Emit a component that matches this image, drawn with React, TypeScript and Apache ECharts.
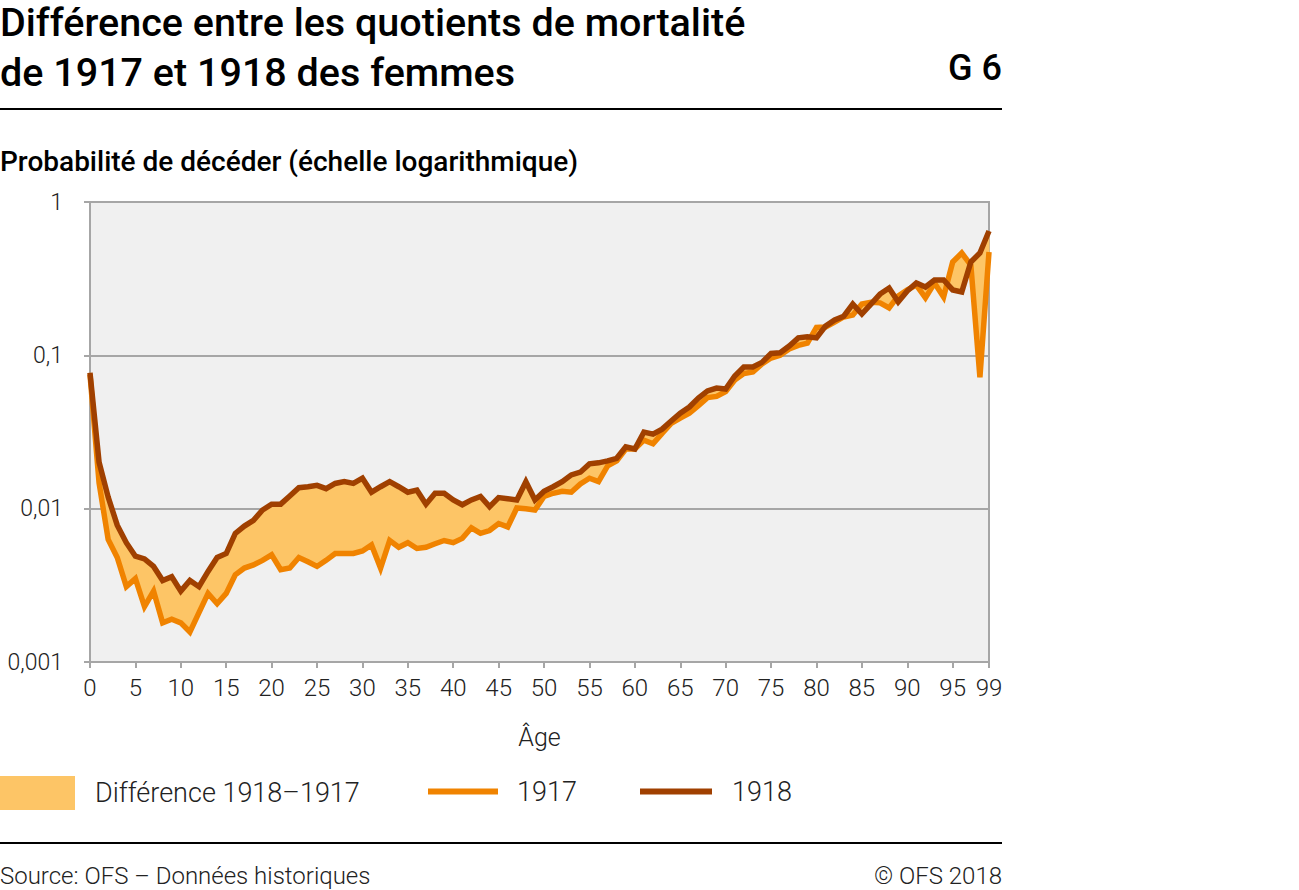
import React, { useEffect, useRef } from "react";
import * as echarts from "echarts";

const ages: number[] = Array.from({ length: 100 }, (_, i) => i);

const q1917: number[] = [
  0.075, 0.0147, 0.0063, 0.0048, 0.0031, 0.0035, 0.0023, 0.0029, 0.0018, 0.0019,
  0.0018, 0.00157, 0.0021, 0.0028, 0.0024, 0.0028, 0.0037, 0.0041, 0.0043, 0.0046,
  0.005, 0.004, 0.0041, 0.0048, 0.0045, 0.0042, 0.0046, 0.0051, 0.0051, 0.0051,
  0.0053, 0.0058, 0.0041, 0.0062, 0.0056, 0.006, 0.0055, 0.0056, 0.0059, 0.0062,
  0.006, 0.0064, 0.0075, 0.0069, 0.0072, 0.008, 0.0076, 0.0101, 0.01, 0.0098,
  0.012, 0.0126, 0.013, 0.0128, 0.0145, 0.0158, 0.015, 0.019, 0.0205, 0.0245,
  0.0245, 0.028, 0.0265, 0.031, 0.036, 0.039, 0.042, 0.047, 0.053, 0.054,
  0.058, 0.069, 0.076, 0.078, 0.088, 0.096, 0.1, 0.11, 0.116, 0.12,
  0.152, 0.153, 0.165, 0.178, 0.183, 0.216, 0.222, 0.22, 0.204, 0.244,
  0.267, 0.287, 0.237, 0.296, 0.24, 0.406, 0.465, 0.388, 0.072, 0.472,
];

const q1918: number[] = [
  0.077, 0.0201, 0.0119, 0.0078, 0.006, 0.0049, 0.0047, 0.0042, 0.0034, 0.0036,
  0.0029, 0.0034, 0.0031, 0.0039, 0.0048, 0.0051, 0.0069, 0.0077, 0.0084, 0.0098,
  0.0107, 0.0107, 0.0121, 0.0137, 0.0139, 0.0142, 0.0135, 0.0146, 0.015, 0.0146,
  0.0158, 0.0128, 0.0139, 0.015, 0.0139, 0.0128, 0.0132, 0.0107, 0.0126, 0.0126,
  0.0114, 0.0106, 0.0114, 0.012, 0.0103, 0.0118, 0.0116, 0.0114, 0.015, 0.0114,
  0.013, 0.0139, 0.015, 0.0166, 0.0173, 0.0196, 0.0199, 0.0205, 0.0213, 0.0253,
  0.0245, 0.0316, 0.0306, 0.033, 0.0373, 0.042, 0.046, 0.0527, 0.0586, 0.0612,
  0.0603, 0.0733, 0.0839, 0.0839, 0.09, 0.1028, 0.104, 0.115, 0.13, 0.132,
  0.13, 0.155, 0.17, 0.18, 0.216, 0.186, 0.216, 0.251, 0.275, 0.223,
  0.263, 0.296, 0.279, 0.31, 0.31, 0.267, 0.259, 0.406, 0.465, 0.647,
];

const xTicks: number[] = [0, 5, 10, 15, 20, 25, 30, 35, 40, 45, 50, 55, 60, 65, 70, 75, 80, 85, 90, 95, 99];
const yTickLabels: Record<string, string> = { "1": "1", "0.1": "0,1", "0.01": "0,01", "0.001": "0,001" };

const titleLines = ["Différence entre les quotients de mortalité", "de 1917 et 1918 des femmes"];
const chartNumber = "G 6";
const subtitle = "Probabilité de décéder (échelle logarithmique)";
const xAxisName = "Âge";
const seriesNames = ["Différence 1918–1917", "1917", "1918"];
const sourceText = "Source: OFS – Données historiques";
const copyrightText = "© OFS 2018";

const COLOR_FILL = "#fdc566";
const COLOR_1917 = "#f08300";
const COLOR_1918 = "#a04000";
const FONT = "Roboto, 'Noto Sans', sans-serif";

export default function App() {
  const ref = useRef<HTMLDivElement>(null);

  useEffect(() => {
    document.body.style.margin = "0";
    if (!ref.current) return;
    const chart = echarts.init(ref.current, null, { renderer: "svg" });

    const data1917 = ages.map((a, i) => [a, q1917[i]]);
    const data1918 = ages.map((a, i) => [a, q1918[i]]);
    const fillData = ages.map((a, i) => [a, q1917[i], q1918[i]]);

    const legendText = { fontSize: 27, fontWeight: 300, color: "#222", fontFamily: FONT };

    const option: any = {
      animation: false,
      textStyle: { fontFamily: FONT },
      grid: {
        left: 90,
        top: 202,
        width: 899,
        height: 460,
        show: true,
        backgroundColor: "#f0f0f0",
        borderColor: "#a6a6a6",
        borderWidth: 2,
      },
      xAxis: {
        type: "value",
        min: 0,
        max: 99,
        interval: 5,
        name: xAxisName,
        nameLocation: "middle",
        nameGap: 63,
        nameTextStyle: { fontSize: 25, fontWeight: 300, color: "#222", fontFamily: FONT },
        axisLine: { show: true, lineStyle: { color: "#a6a6a6", width: 2 } },
        axisTick: { show: true, length: 6, lineStyle: { color: "#a6a6a6", width: 2 }, customValues: xTicks },
        axisLabel: {
          customValues: xTicks,
          fontSize: 24,
          fontWeight: 300,
          color: "#222",
          margin: 14,
          fontFamily: FONT,
        },
        splitLine: { show: false },
      },
      yAxis: {
        type: "log",
        logBase: 10,
        min: 0.001,
        max: 1,
        axisLine: { show: true, lineStyle: { color: "#a6a6a6", width: 2 } },
        axisTick: { show: true, length: 6, lineStyle: { color: "#a6a6a6", width: 2 } },
        axisLabel: {
          fontSize: 23,
          fontWeight: 300,
          color: "#222",
          margin: 27,
          fontFamily: FONT,
          formatter: (v: number) => {
            const key = String(Number(v.toPrecision(3)));
            return yTickLabels[key] ?? String(v).replace(".", ",");
          },
        },
        splitLine: { show: true, lineStyle: { color: "#a6a6a6", width: 2 } },
        minorTick: { show: false },
      },
      legend: [
        {
          data: [seriesNames[0]],
          left: 0,
          top: 776,
          padding: 0,
          itemWidth: 75,
          itemHeight: 34,
          icon: "rect",
          textStyle: { ...legendText, padding: [0, 0, 0, 15] },
        },
        {
          data: [seriesNames[1]],
          left: 428,
          top: 778,
          padding: 0,
          itemWidth: 70,
          itemHeight: 6,
          icon: "rect",
          textStyle: { ...legendText, padding: [0, 0, 0, 14] },
        },
        {
          data: [seriesNames[2]],
          left: 640,
          top: 778,
          padding: 0,
          itemWidth: 72,
          itemHeight: 6,
          icon: "rect",
          textStyle: { ...legendText, padding: [0, 0, 0, 15] },
        },
      ],
      series: [
        {
          name: seriesNames[0],
          type: "custom",
          data: fillData,
          itemStyle: { color: COLOR_FILL },
          z: 1,
          renderItem: (params: any, api: any) => {
            if (params.dataIndex !== 0) return null;
            const top = fillData.map((d) => api.coord([d[0], d[2]]));
            const bottom = fillData.map((d) => api.coord([d[0], d[1]])).reverse();
            return {
              type: "polygon",
              shape: { points: top.concat(bottom) },
              style: { fill: COLOR_FILL, stroke: COLOR_FILL, lineWidth: 1 },
            };
          },
        },
        {
          name: seriesNames[1],
          type: "line",
          data: data1917,
          showSymbol: false,
          symbol: "none",
          color: COLOR_1917,
          lineStyle: { color: COLOR_1917, width: 5.5, join: "miter" },
          z: 2,
        },
        {
          name: seriesNames[2],
          type: "line",
          data: data1918,
          showSymbol: false,
          symbol: "none",
          color: COLOR_1918,
          lineStyle: { color: COLOR_1918, width: 5.5, join: "miter" },
          z: 3,
        },
      ],
      graphic: [
        {
          type: "text",
          left: 0,
          top: -3,
          style: {
            text: titleLines.join("\n"),
            fontSize: 39.5,
            fontWeight: 500,
            lineHeight: 50,
            fill: "#000",
            fontFamily: FONT,
          },
        },
        {
          type: "text",
          right: 1299 - 1002,
          top: 50,
          style: { text: chartNumber, fontSize: 36, fontWeight: 500, fill: "#000", fontFamily: FONT },
        },
        {
          type: "line",
          shape: { x1: 0, y1: 109, x2: 1002, y2: 109 },
          style: { stroke: "#000", lineWidth: 2 },
        },
        {
          type: "text",
          left: 0,
          top: 147,
          style: { text: subtitle, fontSize: 28, fontWeight: 500, fill: "#000", fontFamily: FONT },
        },
        {
          type: "line",
          shape: { x1: 0, y1: 843, x2: 1002, y2: 843 },
          style: { stroke: "#000", lineWidth: 2 },
        },
        {
          type: "text",
          left: 0,
          top: 864,
          style: { text: sourceText, fontSize: 24, fontWeight: 300, fill: "#222", fontFamily: FONT },
        },
        {
          type: "text",
          right: 1299 - 1002,
          top: 864,
          style: { text: copyrightText, fontSize: 24, fontWeight: 300, fill: "#222", fontFamily: FONT },
        },
      ],
    };

    chart.setOption(option);
    return () => chart.dispose();
  }, []);

  return <div ref={ref} style={{ width: 1299, height: 890 }} />;
}
